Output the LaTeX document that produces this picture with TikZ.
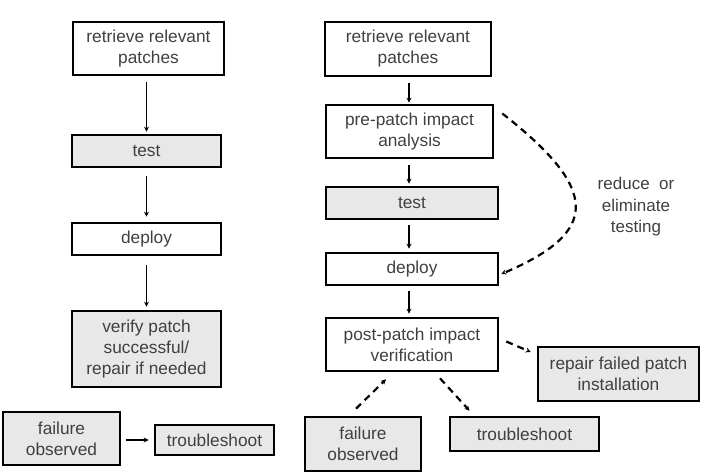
\documentclass[tikz,border=0pt]{standalone}
\usepackage{fontspec}
\setmainfont{Liberation Sans}
\usetikzlibrary{arrows.meta,calc}
\definecolor{txt}{HTML}{404040}
\definecolor{boxgray}{HTML}{E8E8E8}
\tikzset{
  box/.style={draw=black, line width=2.6pt, rectangle, align=center, text=txt,
    font=\fontsize{17.3}{21}\selectfont, inner sep=0pt},
  graybox/.style={box, fill=boxgray},
  flow/.style={line width=1.4pt, -{Stealth[length=5pt,width=5pt]}},
  dflow/.style={line width=2.2pt, dash pattern=on 7pt off 5pt, -{Stealth[length=5pt,width=5pt]}},
  lbl/.style={align=center, text=txt, font=\fontsize{17}{21.5}\selectfont, inner sep=0pt}
}
\begin{document}
\begin{tikzpicture}[x=1pt,y=-1pt]
\useasboundingbox (0,0) rectangle (706,476);
% left column
\node[box, minimum width=151pt, minimum height=53pt] (L1) at (148.5,48.5) {retrieve relevant\\patches};
\node[graybox, minimum width=149pt, minimum height=32pt] (L2) at (146.5,151) {test};
\node[box, minimum width=149pt, minimum height=32pt] (L3) at (146.5,239) {deploy};
\node[graybox, minimum width=149pt, minimum height=76pt] (L4) at (146.5,349) {verify patch\\successful/\\repair if needed};
\node[graybox, minimum width=117pt, minimum height=53pt] (L5) at (61.5,438.5) {failure\\observed};
\node[graybox, minimum width=119pt, minimum height=30pt] (L6) at (214.5,440) {troubleshoot};
\draw[flow, shorten <=6pt, shorten >=2pt] (L1.south -| L2.north) -- (L2.north);
\draw[flow, shorten <=8pt, shorten >=5pt] (L2.south) -- (L3.north);
\draw[flow, shorten <=9pt, shorten >=3pt] (L3.south) -- (L4.north);
\draw[flow, shorten <=5pt, shorten >=5pt] (L5.east |- L6.west) -- (L6.west);
% right column
\node[box, minimum width=166pt, minimum height=54pt] (R1) at (408,49) {retrieve relevant\\patches};
\node[box, minimum width=167pt, minimum height=53pt] (R2) at (409.5,131.5) {pre-patch impact\\analysis};
\node[graybox, minimum width=172pt, minimum height=32pt] (R3) at (412,203) {test};
\node[box, minimum width=172pt, minimum height=32pt] (R4) at (412,269) {deploy};
\node[box, minimum width=172pt, minimum height=53pt] (R5) at (412,344.5) {post-patch impact\\verification};
\node[graybox, minimum width=161pt, minimum height=54pt] (R6) at (618.5,374) {repair failed patch\\installation};
\node[graybox, minimum width=116pt, minimum height=54pt] (R7) at (363,444) {failure\\observed};
\node[graybox, minimum width=149pt, minimum height=34pt] (R8) at (524.5,434) {troubleshoot};
\coordinate (a1) at (409,76);
\draw[flow, shorten <=6pt, shorten >=1pt] (R1.south -| a1) -- (R2.north -| a1);
\draw[flow, shorten <=6pt, shorten >=2pt] (R2.south -| a1) -- (R3.north -| a1);
\draw[flow, shorten <=5pt, shorten >=3pt] (R3.south -| a1) -- (R4.north -| a1);
\draw[flow, shorten <=5pt, shorten >=3pt] (R4.south -| a1) -- (R5.north -| a1);
\draw[dflow] ($(R2.east)+(8,-18)$) .. controls (600,190) and (600,232) .. ($(R4.east)+(2,5)$);
\node[lbl] (note) at (636,207) {reduce\ \ or\\eliminate\\testing};
\draw[dflow] ($(R5.east)+(7,-3)$) -- ($(R6.west)+(-6,-22)$);
\draw[dflow] ($(R5.south)+(28,6)$) -- ($(R8.north)+(-55,-5)$);
\draw[dflow] ($(R7.north)+(-7,-7)$) -- ($(R5.south)+(-26,7)$);
\end{tikzpicture}
\end{document}
